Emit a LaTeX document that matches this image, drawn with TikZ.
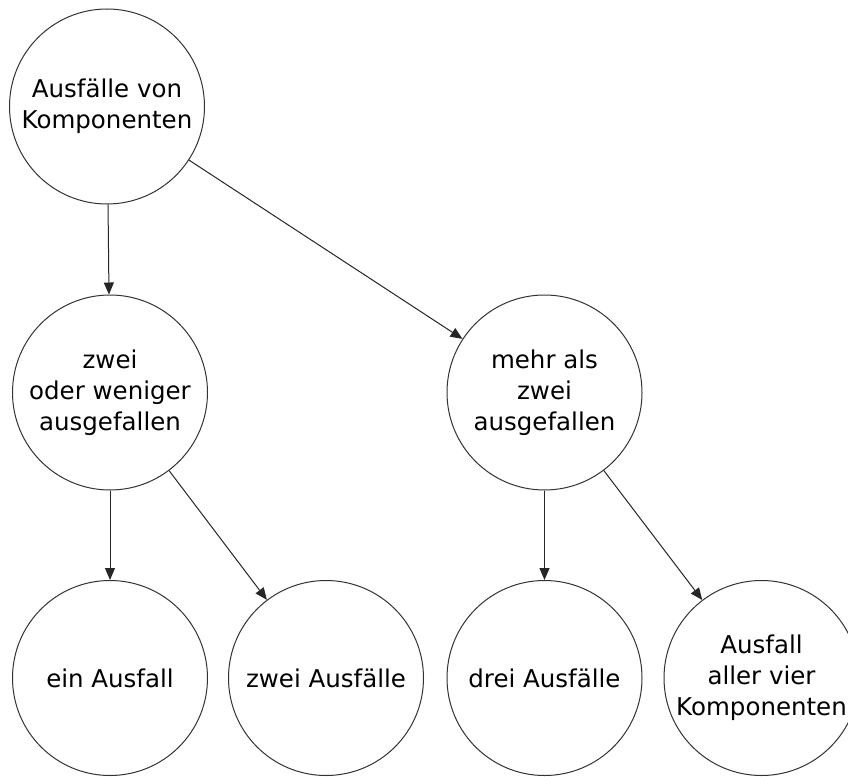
\documentclass[tikz,border=0pt]{standalone}
\usepackage{fontspec}
\setmainfont{DejaVu Sans}
\usetikzlibrary{arrows.meta}
\tikzset{
  state/.style={circle, draw=black!80, line width=1pt, minimum size=195pt,
    inner sep=0pt, align=center, font=\fontsize{24.5}{31}\selectfont},
  edge/.style={draw=black!85, line width=1pt, -{Triangle[length=12pt,width=10pt]}}
}
\begin{document}
\begin{tikzpicture}[x=1pt,y=-1pt]
  \useasboundingbox (0,0) rectangle (848,776);
  \clip (0,0) rectangle (848,776);
  \fill[white] (0,0) rectangle (848,776);

  % tree nodes
  \node[state] (root) at (107,106.5) {Ausfälle von\\Komponenten};
  \node[state] (le)   at (110,392.5) {zwei\\oder weniger\\ausgefallen};
  \node[state] (gt)   at (544.5,392.5) {mehr als\\zwei\\ausgefallen};
  \node[state] (one)  at (110,678) {ein Ausfall};
  \node[state] (two)  at (326,678) {zwei Ausfälle};
  \node[state] (three) at (544.5,678) {drei Ausfälle};
  \node[state] (four) at (761.5,678) {Ausfall\\aller vier\\Komponenten};

  % connectors
  \draw[edge] (root) -- (le);
  \draw[edge] (root) -- (gt);
  \draw[edge] (le) -- (one);
  \draw[edge] (le) -- (two);
  \draw[edge] (gt) -- (three);
  \draw[edge] (gt) -- (four);
\end{tikzpicture}
\end{document}
